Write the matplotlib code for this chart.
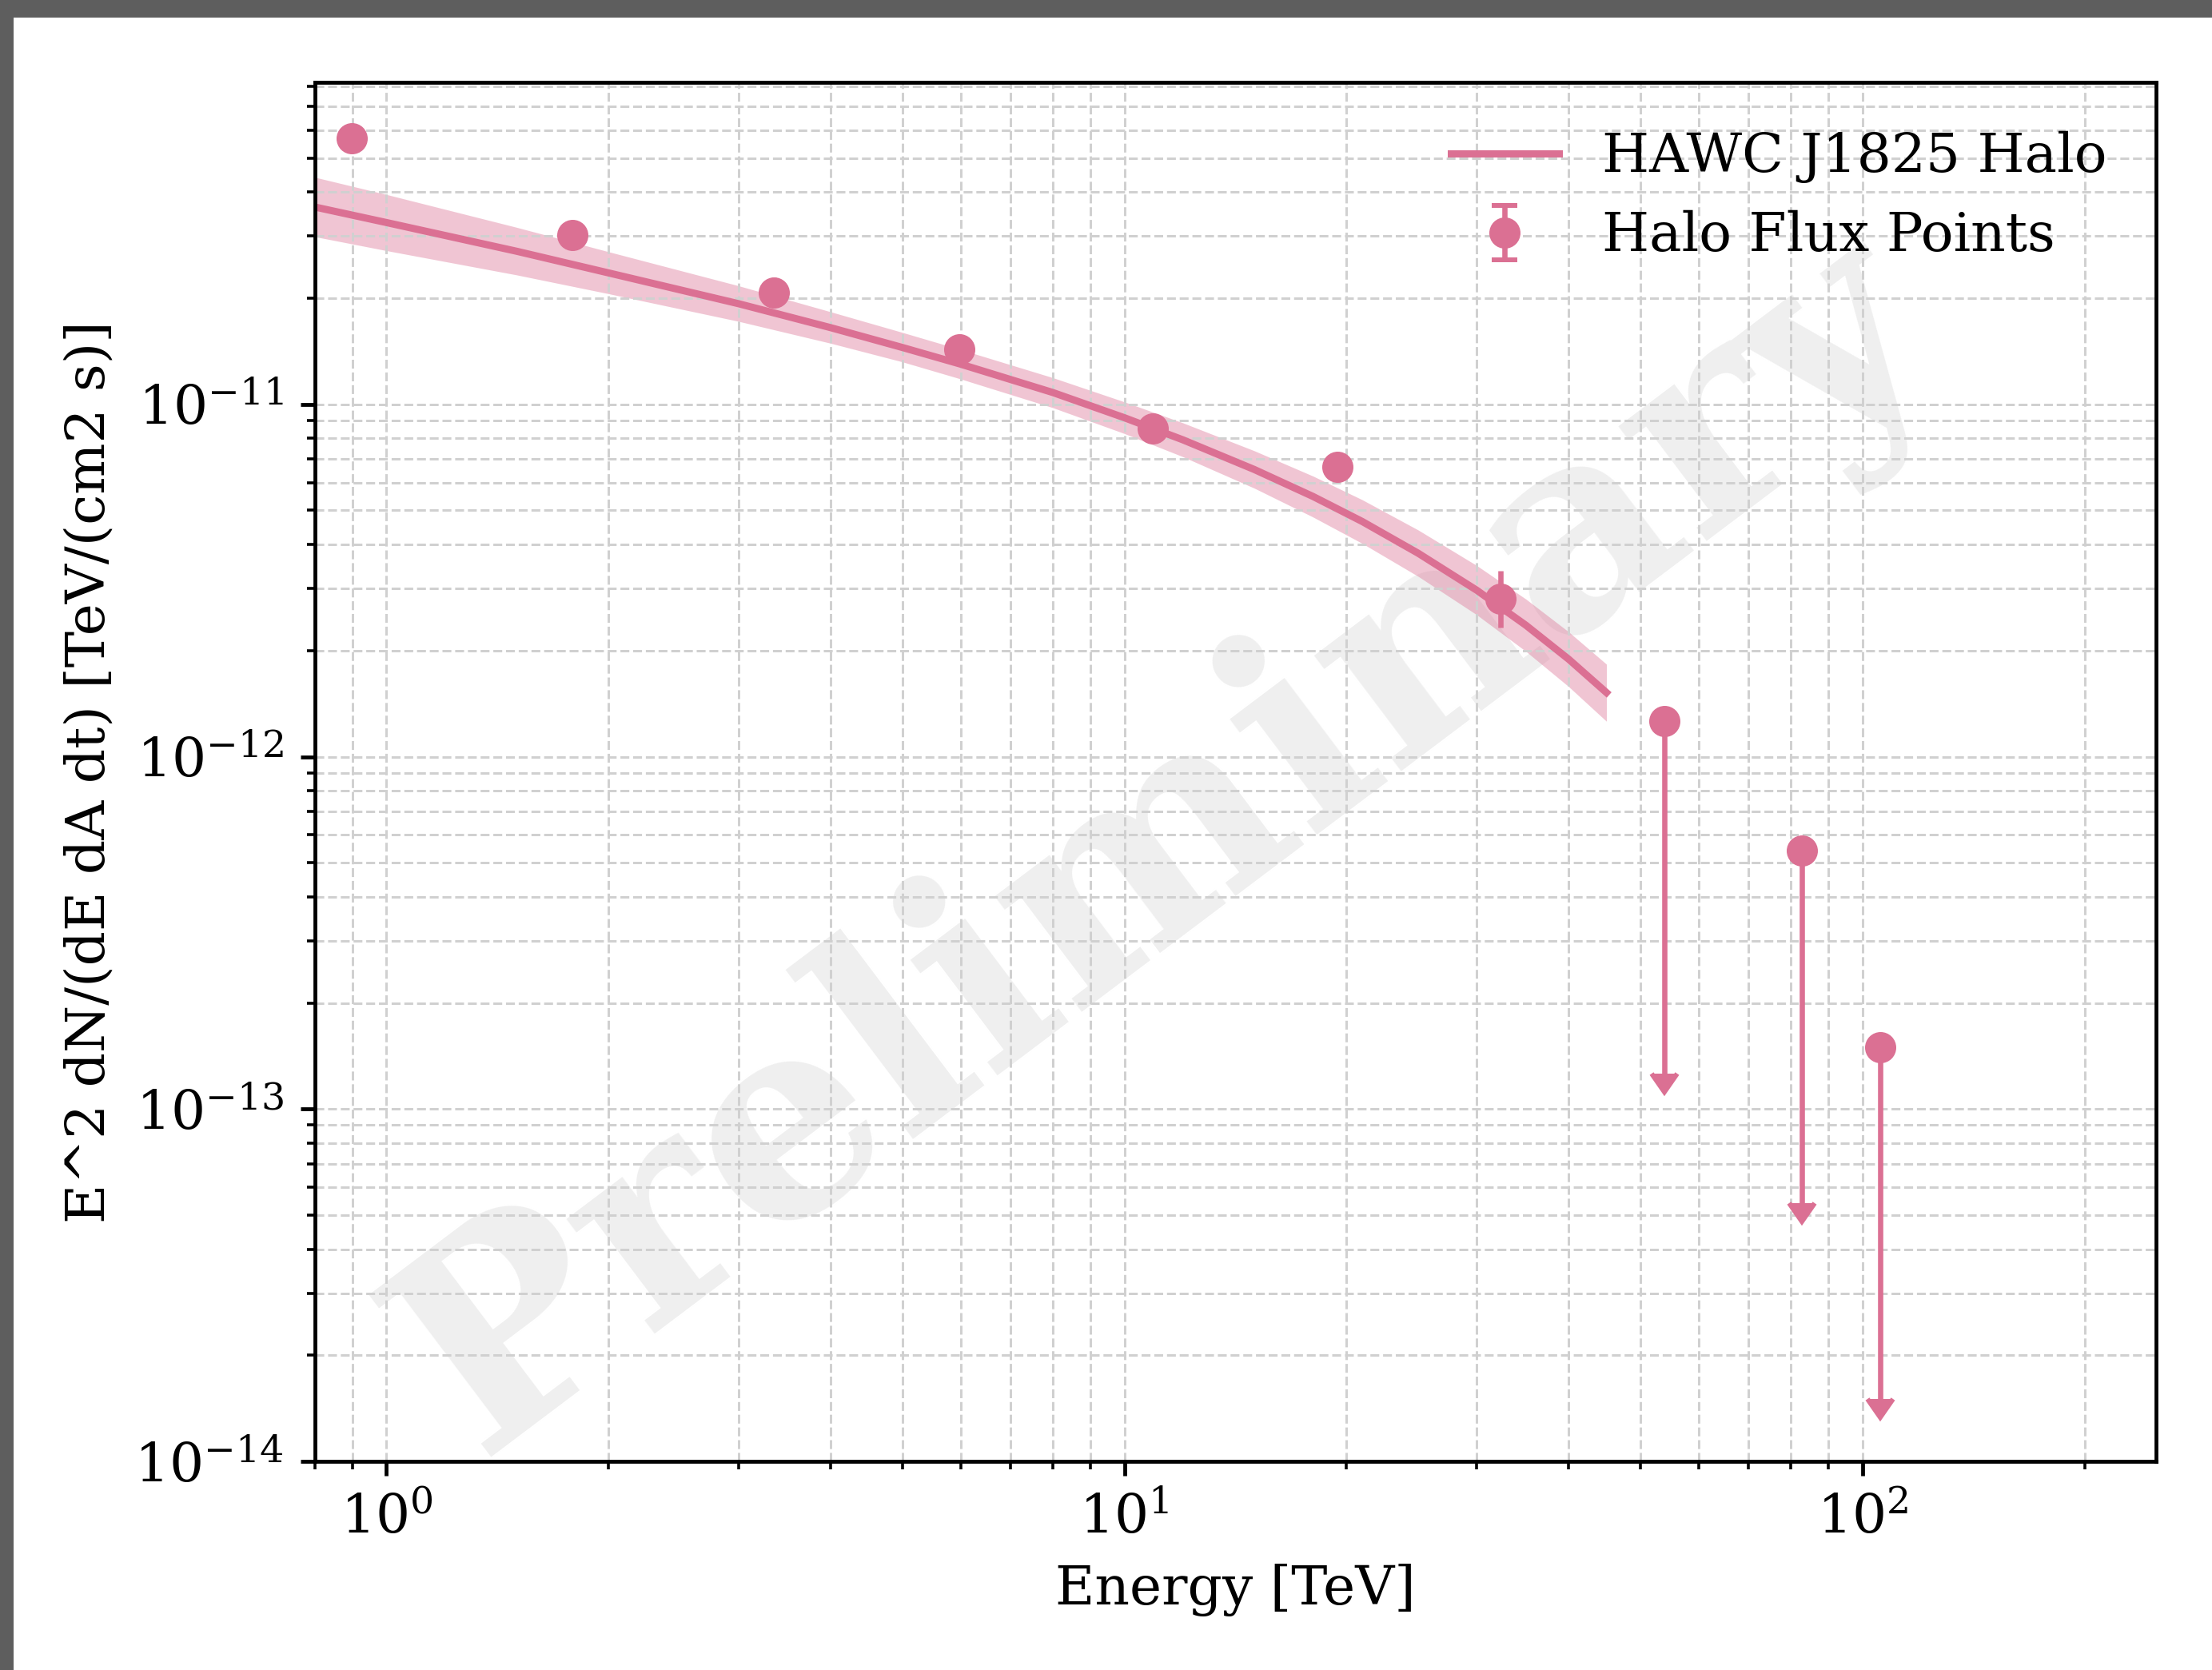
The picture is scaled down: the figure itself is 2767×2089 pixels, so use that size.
import matplotlib
matplotlib.use('Agg')
import matplotlib.pyplot as plt
from matplotlib.patches import Rectangle
import numpy as np

# flux points (bin centres in TeV, E^2 dN/dE in TeV cm^-2 s^-1)
energy = [0.897, 1.785, 3.347, 5.977, 10.93, 19.44, 32.3]
flux = [5.68e-11, 3.02e-11, 2.08e-11, 1.43e-11, 8.55e-12, 6.64e-12, 2.81e-12]
flux_err_lo = [0.51e-11, 0.27e-11, 0.19e-11, 0.13e-11, 0.77e-12, 0.60e-12, 0.49e-12]
flux_err_hi = [0.57e-11, 0.30e-11, 0.21e-11, 0.14e-11, 0.86e-12, 0.66e-12, 0.56e-12]

# upper limits in the highest bins
ul_energy = [53.85, 82.7, 105.6]
ul_flux = [1.26e-12, 5.4e-13, 1.5e-13]
ul_arrow_end = [1.26e-13, 5.4e-14, 1.5e-14]

# best-fit spectrum and its error band
model_energy = [0.8, 1, 1.5, 2, 3, 4, 5, 6, 8, 10, 12, 15, 18, 21, 25, 30, 35, 40, 45]
model_flux = [3.63e-11, 3.28e-11, 2.72e-11, 2.36e-11, 1.93e-11, 1.65e-11, 1.45e-11,
              1.30e-11, 1.08e-11, 9.16e-12, 7.93e-12, 6.53e-12, 5.48e-12, 4.65e-12,
              3.78e-12, 2.97e-12, 2.36e-12, 1.89e-12, 1.52e-12]
model_hi = [4.41e-11, 3.94e-11, 3.18e-11, 2.71e-11, 2.17e-11, 1.83e-11, 1.60e-11,
            1.43e-11, 1.19e-11, 1.016e-11, 8.86e-12, 7.38e-12, 6.26e-12, 5.36e-12,
            4.40e-12, 3.49e-12, 2.80e-12, 2.26e-12, 1.83e-12]
model_lo = [2.99e-11, 2.73e-11, 2.33e-11, 2.06e-11, 1.72e-11, 1.49e-11, 1.32e-11,
            1.18e-11, 9.78e-12, 8.26e-12, 7.10e-12, 5.78e-12, 4.79e-12, 4.03e-12,
            3.25e-12, 2.53e-12, 1.99e-12, 1.58e-12, 1.26e-12]

color = 'palevioletred'

plt.rcParams['font.family'] = 'serif'
plt.rcParams['font.serif'] = ['DejaVu Serif']
plt.rcParams['mathtext.fontset'] = 'dejavuserif'
plt.rcParams['font.size'] = 11.3
plt.rcParams['lines.markersize'] = 5.2  # caret size on the upper limits

fig = plt.figure(figsize=(2767 / 432, 2089 / 432), dpi=432)
ax = fig.add_axes([394 / 2767, 1 - 1828 / 2089, 2303 / 2767, 1725 / 2089])

ax.text(0.462, 0.447, 'Preliminary', transform=ax.transAxes, rotation=37,
        rotation_mode='anchor', ha='center', va='center', fontsize=58,
        fontweight='bold', color='#efefef', zorder=0, clip_on=False)

ax.fill_between(model_energy, model_lo, model_hi, color=color, alpha=0.4, lw=0)
ax.plot(model_energy, model_flux, color=color, lw=1.5, label='HAWC J1825 Halo')

x_all = energy + ul_energy
y_all = flux + ul_flux
err_lo = flux_err_lo + [f - e for f, e in zip(ul_flux, ul_arrow_end)]
err_hi = flux_err_hi + [0, 0, 0]
uplims = [False] * len(energy) + [True] * len(ul_energy)
ax.errorbar(x_all, y_all, yerr=[err_lo, err_hi], uplims=uplims, fmt='o',
            color=color, markersize=5.5, elinewidth=1.1, capsize=0,
            label='Halo Flux Points')

ax.set_xscale('log')
ax.set_yscale('log')
ax.set_xlim(0.8, 250)
ax.set_ylim(1e-14, 8.2e-11)
ax.grid(True, which='both', ls='--', lw=0.5, color='#d0d0d0')
ax.tick_params(which='major', length=3)
ax.tick_params(which='minor', length=1.7)

ax.set_xlabel('Energy [TeV]')
ax.set_ylabel('E^2 dN/(dE dA dt) [TeV/(cm2 s)]')
ax.legend(loc='upper right', frameon=False)

# dark strips along the top and left edge
fig.patches.append(Rectangle((0, 1 - 19 / 2089), 1, 19 / 2089,
                             transform=fig.transFigure, color='#5e5e5e', zorder=10))
fig.patches.append(Rectangle((0, 0), 14 / 2767, 1,
                             transform=fig.transFigure, color='#5e5e5e', zorder=10))

fig.savefig('out.png', dpi=432)
